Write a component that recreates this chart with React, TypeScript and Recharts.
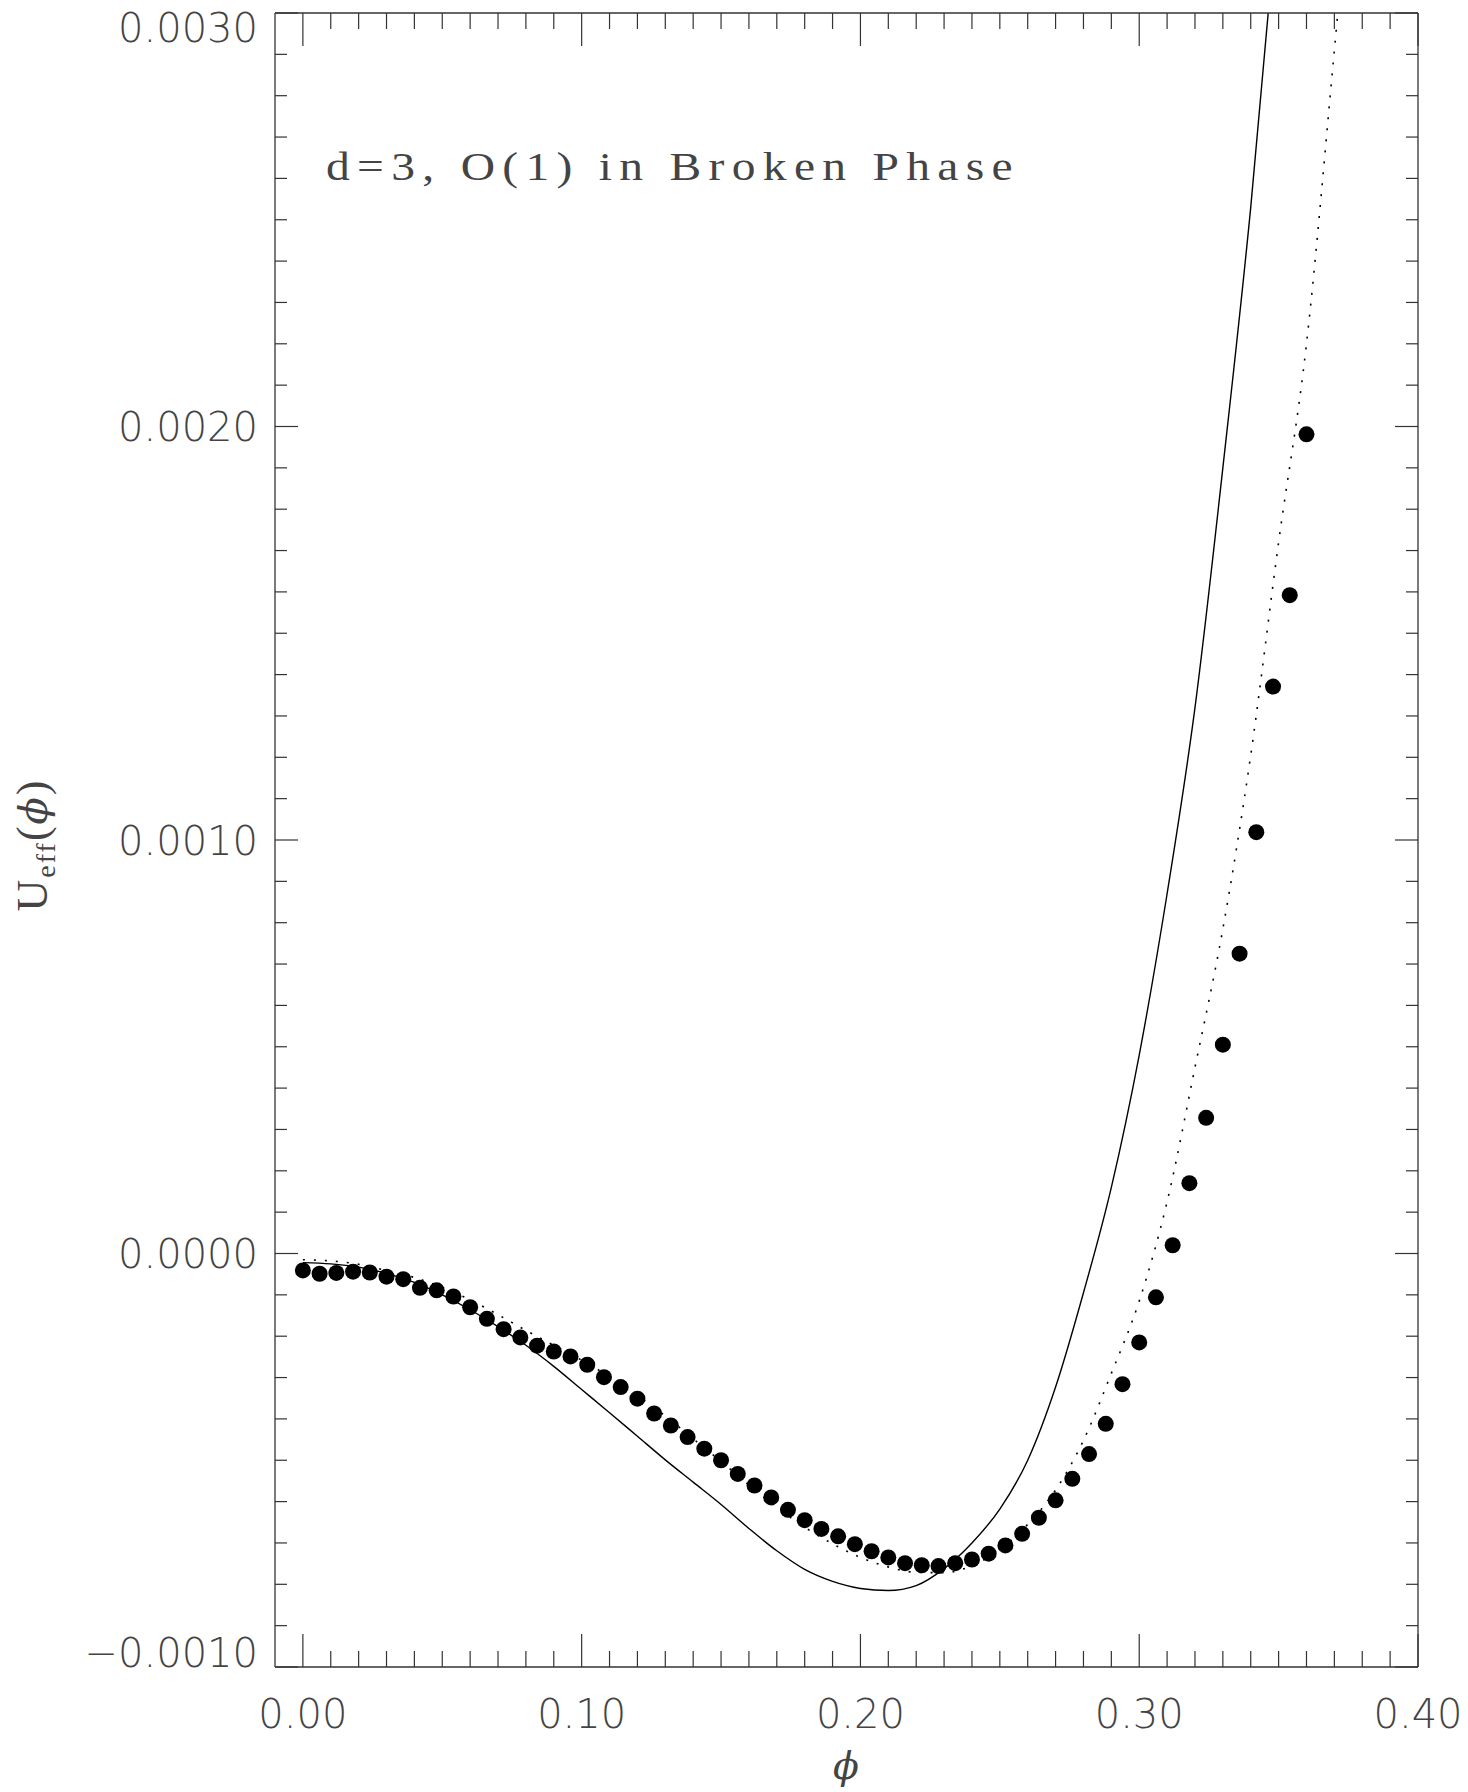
import React from 'react';
import { ComposedChart, Line, Scatter, XAxis, YAxis, Customized } from 'recharts';

// solid curve
const phiSolid = [
  0.00, 0.01, 0.02, 0.03, 0.04, 0.05, 0.06, 0.07, 0.08, 0.09,
  0.10, 0.11, 0.12, 0.13, 0.14, 0.15, 0.16, 0.17, 0.18, 0.19,
  0.20, 0.21, 0.22, 0.23, 0.24, 0.25, 0.26, 0.27, 0.28, 0.29,
  0.30, 0.31, 0.32, 0.33, 0.34, 0.35,
];
const uSolid = [
  -0.000022, -0.000025, -0.000033, -0.000048, -0.000070, -0.000100, -0.000136, -0.000177, -0.000222, -0.000273,
  -0.000329, -0.000385, -0.000442, -0.000499, -0.000553, -0.000607, -0.000665, -0.000719, -0.000764, -0.000793,
  -0.000810, -0.000815, -0.000803, -0.000762, -0.000700, -0.000618, -0.000500, -0.000323, -0.000095, 0.000160,
  0.000480, 0.000870, 0.001320, 0.001900, 0.002530, 0.003280,
];

// dotted curve
const phiDotted = [
  0.00, 0.01, 0.02, 0.03, 0.04, 0.05, 0.06, 0.07, 0.08, 0.09,
  0.10, 0.11, 0.12, 0.13, 0.14, 0.15, 0.16, 0.17, 0.18, 0.19,
  0.20, 0.21, 0.22, 0.23, 0.24, 0.25, 0.26, 0.27, 0.28, 0.29,
  0.30, 0.31, 0.32, 0.33, 0.34, 0.35, 0.36, 0.37, 0.38,
];
const uDotted = [
  -0.000015, -0.000018, -0.000026, -0.000041, -0.000058, -0.000082, -0.000112, -0.000148, -0.000186, -0.000222,
  -0.000258, -0.000298, -0.000343, -0.000393, -0.000448, -0.000503, -0.000560, -0.000614, -0.000662, -0.000702,
  -0.000735, -0.000758, -0.000771, -0.000772, -0.000755, -0.000716, -0.000655, -0.000572, -0.000452, -0.000290,
  -0.000115, 0.000125, 0.000450, 0.000785, 0.001205, 0.001720, 0.002200, 0.002910, 0.003650,
];

// filled circles
const phiDots = [
  0.000, 0.006, 0.012, 0.018, 0.024, 0.030, 0.036, 0.042, 0.048, 0.054,
  0.060, 0.066, 0.072, 0.078, 0.084, 0.090, 0.096, 0.102, 0.108, 0.114,
  0.120, 0.126, 0.132, 0.138, 0.144, 0.150, 0.156, 0.162, 0.168, 0.174,
  0.180, 0.186, 0.192, 0.198, 0.204, 0.210, 0.216, 0.222, 0.228, 0.234,
  0.240, 0.246, 0.252, 0.258, 0.264, 0.270, 0.276, 0.282, 0.288, 0.294,
  0.300, 0.306, 0.312, 0.318, 0.324, 0.330, 0.336, 0.342, 0.348, 0.354,
  0.360,
];
const uDots = [
  -0.000041, -0.000049, -0.000047, -0.000044, -0.000046, -0.000056, -0.000062, -0.000083, -0.000089, -0.000104,
  -0.000130, -0.000158, -0.000183, -0.000203, -0.000223, -0.000237, -0.000249, -0.000269, -0.000299, -0.000323,
  -0.000351, -0.000387, -0.000416, -0.000444, -0.000472, -0.000500, -0.000533, -0.000561, -0.000590, -0.000620,
  -0.000645, -0.000666, -0.000684, -0.000703, -0.000720, -0.000735, -0.000749, -0.000754, -0.000756, -0.000749,
  -0.000740, -0.000726, -0.000706, -0.000678, -0.000639, -0.000597, -0.000545, -0.000485, -0.000412, -0.000316,
  -0.000215, -0.000106, 0.000020, 0.000170, 0.000328, 0.000505, 0.000725, 0.001019, 0.001371, 0.001592,
  0.001981,
];

const xMajor = [0, 0.1, 0.2, 0.3, 0.4];
const yMajor = [-0.001, 0, 0.001, 0.002, 0.003];
const xTicks = Array.from({ length: 41 }, (_, i) => +(i * 0.01).toFixed(2));
const yTicks = Array.from({ length: 41 }, (_, i) => +(-0.001 + i * 0.0001).toFixed(4));

const solidData = phiSolid.map((phi, i) => ({ phi, v: uSolid[i] }));
const dottedData = phiDotted.map((phi, i) => ({ phi, v: uDotted[i] }));
const dotsData = phiDots.map((phi, i) => ({ phi, v: uDots[i] }));

const W = 1468;
const H = 1792;
const TOP = 13;
const BOTTOM = 1667;
const AXIS = '#333';
const TEXT = '#444';
const SANS = "'DejaVu Sans', sans-serif";
const SERIF = "'Liberation Serif', serif";

const isMajor = (list: number[], v: number) => list.some((m) => Math.abs(m - v) < 1e-9);

const BottomTick = (props: any) => {
  const { x, y, payload } = props;
  const major = isMajor(xMajor, payload.value);
  return (
    <g>
      <line x1={x} y1={y} x2={x} y2={y - (major ? 33 : 16)} stroke={AXIS} strokeWidth={1.2} />
      {major && (
        <text x={x} y={y + 61} textAnchor="middle" fontSize={40} fontFamily={SANS} fontWeight={200} fill={TEXT}>
          {payload.value.toFixed(2)}
        </text>
      )}
    </g>
  );
};

const TopTick = (props: any) => {
  const { x, y, payload } = props;
  const major = isMajor(xMajor, payload.value);
  return <line x1={x} y1={y} x2={x} y2={y + (major ? 33 : 16)} stroke={AXIS} strokeWidth={1.2} />;
};

const LeftTick = (props: any) => {
  const { x, y, payload } = props;
  const major = isMajor(yMajor, payload.value);
  const cy = Math.min(Math.max(y, TOP + 14.5), BOTTOM - 14.5);
  return (
    <g>
      <line x1={x} y1={y} x2={x + (major ? 23 : 12)} y2={y} stroke={AXIS} strokeWidth={1.2} />
      {major && (
        <text x={x - 17} y={cy + 14.5} textAnchor="end" fontSize={40} fontFamily={SANS} fontWeight={200} fill={TEXT}>
          {payload.value.toFixed(4).replace('-', '\u2212')}
        </text>
      )}
    </g>
  );
};

const RightTick = (props: any) => {
  const { x, y, payload } = props;
  const major = isMajor(yMajor, payload.value);
  return <line x1={x} y1={y} x2={x - (major ? 23 : 12)} y2={y} stroke={AXIS} strokeWidth={1.2} />;
};

const Labels = () => (
  <g>
    <text
      x={326}
      y={180}
      fontSize={39}
      fontFamily={SERIF}
      fill={TEXT}
      letterSpacing={6}
      textLength={694}
      lengthAdjust="spacingAndGlyphs"
    >
      d=3, O(1) in Broken Phase
    </text>
    <text x={846} y={1779} textAnchor="middle" fontSize={38} fontFamily="'DejaVu Serif', serif" fontStyle="italic" fill={TEXT}>
      {'\u03D5'}
    </text>
    <text
      x={47}
      y={845}
      transform="rotate(-90, 47, 845)"
      textAnchor="middle"
      fontSize={44}
      fontFamily={SERIF}
      fill={TEXT}
      letterSpacing={2}
    >
      <tspan>U</tspan>
      <tspan fontSize={28} dy={8}>eff</tspan>
      <tspan dy={-8}>(</tspan>
      <tspan fontStyle="italic" fontFamily="'DejaVu Serif', serif" fontSize={40}>{'\u03D5'}</tspan>
      <tspan>)</tspan>
    </text>
  </g>
);

const DotShape = (props: any) => <circle cx={props.cx} cy={props.cy} r={8} fill="#000" />;

export default function App() {
  return (
    <div style={{ position: 'absolute', left: 0, top: 0, width: W, height: H, background: '#fff' }}>
      <ComposedChart width={W} height={H} margin={{ top: TOP - 1, right: 49, bottom: 0, left: 0 }}>
        <XAxis
          xAxisId="b"
          type="number"
          dataKey="phi"
          domain={[-0.01, 0.4]}
          allowDataOverflow
          ticks={xTicks}
          interval={0}
          tick={BottomTick}
          tickLine={false}
          tickSize={0}
          tickMargin={0}
          height={125}
          axisLine={{ stroke: AXIS, strokeWidth: 1.3 }}
        />
        <XAxis
          xAxisId="t"
          orientation="top"
          type="number"
          dataKey="phi"
          domain={[-0.01, 0.4]}
          allowDataOverflow
          ticks={xTicks}
          interval={0}
          tick={TopTick}
          tickLine={false}
          tickSize={0}
          tickMargin={0}
          height={1}
          axisLine={{ stroke: AXIS, strokeWidth: 1.3 }}
        />
        <YAxis
          yAxisId="l"
          type="number"
          domain={[-0.001, 0.003]}
          allowDataOverflow
          ticks={yTicks}
          interval={0}
          tick={LeftTick}
          tickLine={false}
          tickSize={0}
          tickMargin={0}
          width={275}
          axisLine={{ stroke: AXIS, strokeWidth: 1.3 }}
        />
        <YAxis
          yAxisId="r"
          orientation="right"
          type="number"
          domain={[-0.001, 0.003]}
          allowDataOverflow
          ticks={yTicks}
          interval={0}
          tick={RightTick}
          tickLine={false}
          tickSize={0}
          tickMargin={0}
          width={1}
          axisLine={{ stroke: AXIS, strokeWidth: 1.3 }}
        />
        <Line
          xAxisId="b"
          yAxisId="l"
          data={solidData}
          dataKey="v"
          type="monotone"
          stroke="#000"
          strokeWidth={1.4}
          dot={false}
          activeDot={false}
          isAnimationActive={false}
        />
        <Line
          xAxisId="b"
          yAxisId="l"
          data={dottedData}
          dataKey="v"
          type="monotone"
          stroke="#000"
          strokeWidth={1.6}
          strokeDasharray="2 9"
          dot={false}
          activeDot={false}
          isAnimationActive={false}
        />
        <Scatter
          xAxisId="b"
          yAxisId="l"
          data={dotsData}
          dataKey="v"
          shape={DotShape}
          isAnimationActive={false}
        />
        {/* invisible series so the mirror axes get a domain */}
        <Line
          xAxisId="t"
          yAxisId="r"
          data={dotsData}
          dataKey="v"
          stroke="none"
          dot={false}
          activeDot={false}
          legendType="none"
          isAnimationActive={false}
        />
        <Customized component={Labels} />
      </ComposedChart>
    </div>
  );
}
